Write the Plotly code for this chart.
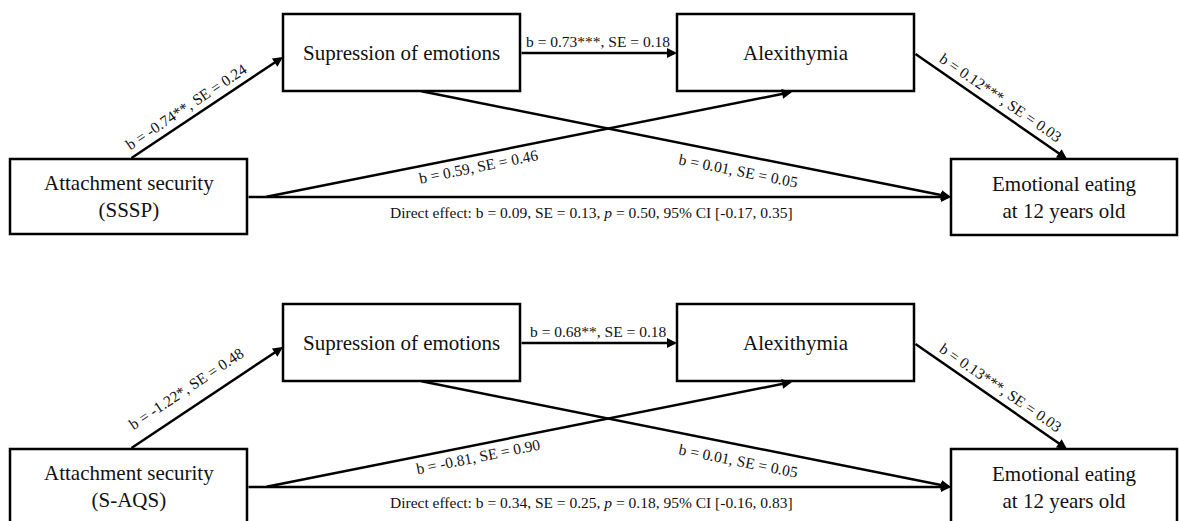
import plotly.graph_objects as go

# ---------------- data ----------------
panel_predictors = ["SSSP", "S-AQS"]
node_names = ["Attachment security", "Supression of emotions", "Alexithymia",
              "Emotional eating<br>at 12 years old"]

# path a1: attachment -> suppression
a1_b = ["-0.74**", "-1.22*"]
a1_se = ["0.24", "0.48"]
# path d: suppression -> alexithymia
d_b = ["0.73***", "0.68**"]
d_se = ["0.18", "0.18"]
# path b2: alexithymia -> emotional eating
b2_b = ["0.12***", "0.13***"]
b2_se = ["0.03", "0.03"]
# path a2: attachment -> alexithymia
a2_b = ["0.59", "-0.81"]
a2_se = ["0.46", "0.90"]
# path b1: suppression -> emotional eating
b1_b = ["0.01", "0.01"]
b1_se = ["0.05", "0.05"]
# direct effect
c_b = ["0.09", "0.34"]
c_se = ["0.13", "0.25"]
c_p = ["0.50", "0.18"]
c_ci_low = ["-0.17", "-0.16"]
c_ci_high = ["0.35", "0.83"]

# ---------------- layout geometry (page-pixel coordinates) ----------------
W, H = 1179, 521
panel_offsets = [0, 290]
boxes = {
    "att": (10, 159, 247, 234),
    "sup": (283, 14, 520, 91),
    "alx": (677, 14, 914, 91),
    "eat": (951, 159, 1177, 235),
}
FONT = "Liberation Serif, Times New Roman, serif"
LW = 2.5

fig = go.Figure()
fig.add_trace(go.Scatter(x=[], y=[], mode="markers", showlegend=False))

shapes = []
annotations = []


def arrow(x0, y0, x1, y1, off):
    annotations.append(dict(
        x=x1, y=y1 + off, ax=x0, ay=y0 + off, xref="x", yref="y",
        axref="x", ayref="y", text="", showarrow=True, arrowhead=2,
        arrowsize=0.8, arrowwidth=LW, arrowcolor="black", standoff=0,
        startstandoff=0))


def label(x, y, text, off, angle=0, size=15.5):
    annotations.append(dict(
        x=x, y=y + off, xref="x", yref="y", text=text, showarrow=False,
        textangle=angle, font=dict(family=FONT, size=size, color="#111111"),
        xanchor="center", yanchor="middle"))


for i, off in enumerate(panel_offsets):
    for key, (x0, y0, x1, y1) in boxes.items():
        shapes.append(dict(type="rect", xref="x", yref="y", x0=x0, x1=x1,
                           y0=y0 + off, y1=y1 + off,
                           line=dict(color="black", width=LW),
                           fillcolor="white", layer="above"))
    texts = {
        "att": f"{node_names[0]}<br>({panel_predictors[i]})",
        "sup": node_names[1],
        "alx": node_names[2],
        "eat": node_names[3],
    }
    for key, t in texts.items():
        x0, y0, x1, y1 = boxes[key]
        annotations.append(dict(
            x=(x0 + x1) / 2, y=(y0 + y1) / 2 + off, xref="x", yref="y",
            text=t, showarrow=False,
            font=dict(family=FONT, size=21, color="#111111")))

    arrow(130, 159, 283, 57, off)      # att -> sup
    arrow(520, 53, 677, 53, off)       # sup -> alx
    arrow(914, 53, 1067, 159, off)     # alx -> eat
    arrow(420, 91, 951, 197, off)      # sup -> eat
    arrow(265, 197, 792, 92, off)      # att -> alx
    arrow(247, 197, 951, 197, off)     # att -> eat (direct)

    label(186, 106 if i == 0 else 98, f"b = {a1_b[i]}, SE = {a1_se[i]}", off, angle=-33.7)
    label(598, 41, f"b = {d_b[i]}, SE = {d_se[i]}", off)
    label(1001, 97, f"b = {b2_b[i]}, SE = {b2_se[i]}", off, angle=34.5)
    label(478, 166, f"b = {a2_b[i]}, SE = {a2_se[i]}", off, angle=-11.3)
    label(738, 170, f"b = {b1_b[i]}, SE = {b1_se[i]}", off, angle=11.2)
    label(591, 212,
          f"Direct effect: b = {c_b[i]}, SE = {c_se[i]}, <i>p</i> = {c_p[i]}, "
          f"95% CI [{c_ci_low[i]}, {c_ci_high[i]}]", off, size=15.5)

fig.update_layout(
    width=W, height=H,
    margin=dict(l=0, r=0, t=0, b=0),
    paper_bgcolor="white", plot_bgcolor="white",
    xaxis=dict(range=[0, W], visible=False, fixedrange=True),
    yaxis=dict(range=[H, 0], visible=False, fixedrange=True),
    shapes=shapes, annotations=annotations, showlegend=False,
)

fig.write_html(
    "out.html",
    config={"displayModeBar": False},
    post_script="document.body.style.margin='0';"
                "document.body.style.overflow='hidden';",
)
